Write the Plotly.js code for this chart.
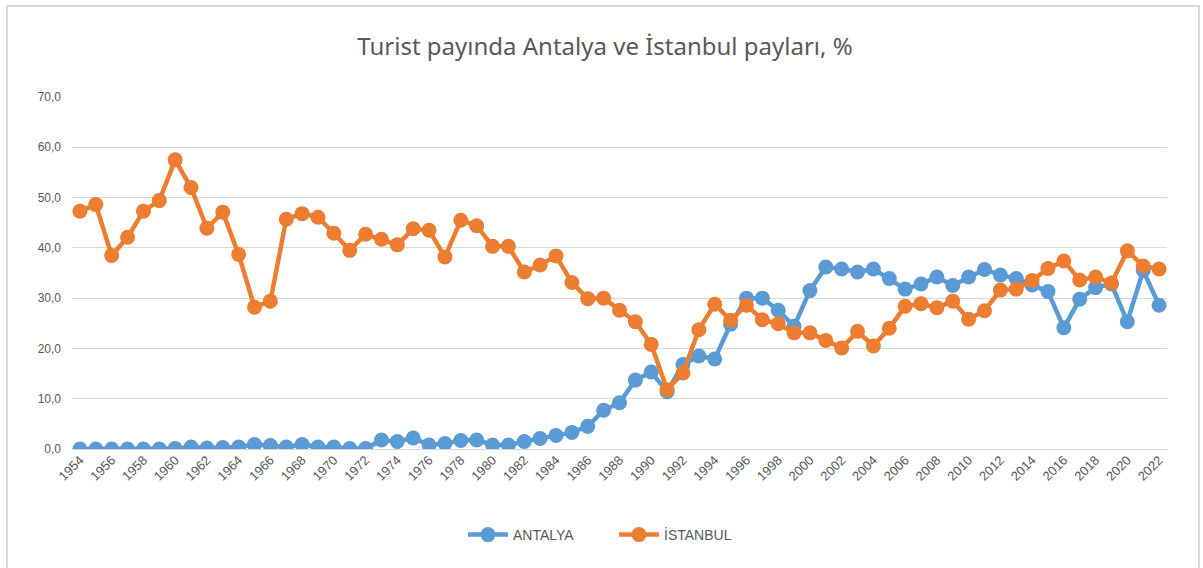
<!DOCTYPE html>
<html>
<head>
<meta charset="utf-8">
<script src="https://cdn.plot.ly/plotly-3.0.1.min.js"></script>
<style>html,body{margin:0;padding:0;background:#fff;}#chart{width:1203px;height:568px;}</style>
</head>
<body>
<div id="chart"></div>
<script>
const years = [];
for (let y = 1954; y <= 2022; y++) years.push(y);

const antalya = [
  0.0, 0.0, 0.0, 0.0, 0.0, 0.0, 0.1, 0.4, 0.2, 0.3,
  0.4, 0.9, 0.7, 0.4, 0.9, 0.4, 0.4, 0.1, 0.1, 1.8,
  1.5, 2.2, 0.8, 1.1, 1.7, 1.8, 0.8, 0.8, 1.5, 2.1,
  2.7, 3.3, 4.5, 7.7, 9.2, 13.7, 15.3, 11.4, 16.8, 18.5,
  17.9, 24.8, 30.0, 30.0, 27.6, 24.4, 31.5, 36.2, 35.8, 35.2,
  35.8, 33.9, 31.8, 32.8, 34.2, 32.5, 34.2, 35.7, 34.6, 33.9,
  32.6, 31.3, 24.1, 29.8, 32.1, 32.8, 25.3, 35.5, 28.6
];

const istanbul = [
  47.3, 48.6, 38.5, 42.1, 47.3, 49.4, 57.5, 52.0, 43.9, 47.1,
  38.7, 28.2, 29.4, 45.7, 46.8, 46.1, 42.9, 39.5, 42.7, 41.7,
  40.6, 43.8, 43.5, 38.2, 45.5, 44.4, 40.3, 40.3, 35.2, 36.6,
  38.4, 33.1, 29.9, 30.0, 27.6, 25.3, 20.8, 11.8, 15.1, 23.7,
  28.8, 25.6, 28.6, 25.7, 24.9, 23.1, 23.1, 21.6, 20.1, 23.4,
  20.5, 24.0, 28.4, 28.9, 28.1, 29.4, 25.8, 27.5, 31.6, 31.8,
  33.5, 35.9, 37.4, 33.6, 34.2, 33.0, 39.4, 36.4, 35.8
];

const seriesNames = ['ANTALYA', 'İSTANBUL'];
const tickYears = years.filter(y => (y - 1954) % 2 === 0);
const yTicks = [0, 10, 20, 30, 40, 50, 60, 70];

const fontFam = '"Noto Sans", "Open Sans", "DejaVu Sans", sans-serif';
const labelFam = '"Liberation Sans", "Noto Sans", sans-serif';

const traces = [
  {
    x: years, y: antalya, name: seriesNames[0], type: 'scatter', mode: 'lines+markers',
    line: {color: '#5B9BD5', width: 4.5},
    marker: {color: '#5B9BD5', size: 15}
  },
  {
    x: years, y: istanbul, name: seriesNames[1], type: 'scatter', mode: 'lines+markers',
    line: {color: '#ED7D31', width: 4.5},
    marker: {color: '#ED7D31', size: 15}
  }
];

const W = 1203, H = 568, L = 72, R = 1167, T = 97, B = 449;
const px = v => (v - L) / (R - L);
const py = v => (B - v) / (B - T);

const layout = {
  width: W, height: H,
  margin: {l: L, r: W - R, t: T, b: H - B, pad: 0},
  paper_bgcolor: '#ffffff',
  plot_bgcolor: '#ffffff',
  separators: ', ',
  showlegend: true,
  title: {
    text: 'Turist payında Antalya ve İstanbul payları, %',
    font: {family: fontFam, size: 24, color: '#595959'},
    x: 605 / W, xref: 'container', xanchor: 'center',
    y: 1 - 47 / H, yref: 'container', yanchor: 'middle'
  },
  xaxis: {
    type: 'linear',
    range: [1953.5, 2022.5],
    tickmode: 'array',
    tickvals: tickYears,
    ticktext: tickYears.map(String),
    tickangle: -45,
    tickfont: {family: labelFam, size: 13, color: '#595959'},
    showgrid: false,
    zeroline: false,
    showline: false,
    ticks: '',
    ticklen: 0,
    fixedrange: true
  },
  yaxis: {
    range: [0, 70],
    tickmode: 'array',
    tickvals: yTicks,
    tickformat: '.1f',
    tickfont: {family: labelFam, size: 12, color: '#595959'},
    showgrid: true,
    gridcolor: '#d9d9d9',
    gridwidth: 1,
    zeroline: true,
    zerolinecolor: '#d9d9d9',
    zerolinewidth: 1,
    showline: false,
    ticks: '',
    ticklabelstandoff: 10,
    fixedrange: true
  },
  legend: {
    orientation: 'h',
    xref: 'container', yref: 'container',
    x: 614 / W, xanchor: 'center',
    y: 1 - 535 / H, yanchor: 'middle',
    font: {family: labelFam, size: 14, color: '#595959'},
    entrywidth: 96,
    itemwidth: 40,
    bgcolor: 'rgba(0,0,0,0)'
  },
  shapes: [
    {
      type: 'rect', xref: 'paper', yref: 'paper', layer: 'below',
      x0: px(7), x1: px(1199), y0: py(575), y1: py(6),
      line: {color: '#d9d9d9', width: 2}, fillcolor: 'rgba(0,0,0,0)'
    }
  ]
};

Plotly.newPlot('chart', traces, layout, {displayModeBar: false, staticPlot: true});
</script>
</body>
</html>
